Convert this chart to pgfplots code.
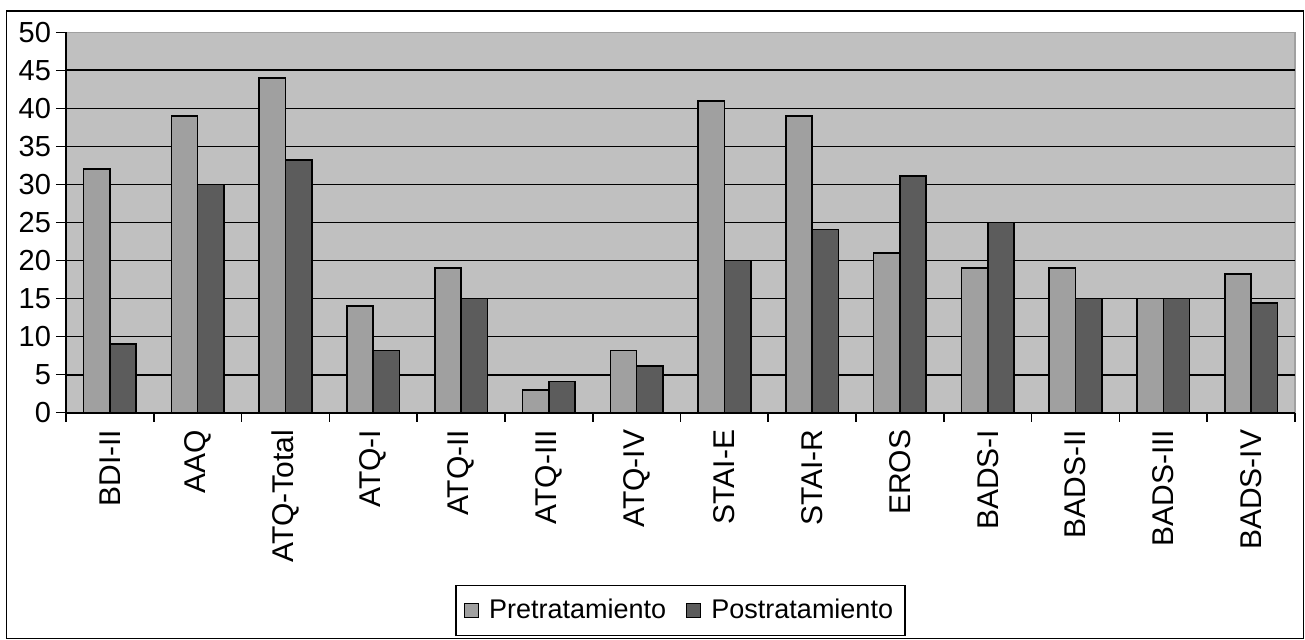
\documentclass[border=0pt]{standalone}
\usepackage{fontspec}
\setmainfont{Liberation Sans}
\usepackage{pgfplots}
\pgfplotsset{compat=1.18}
\definecolor{bgc}{RGB}{192,192,192}
\definecolor{prec}{RGB}{160,160,160}
\definecolor{postc}{RGB}{92,92,92}
\begin{document}
\begin{tikzpicture}
\useasboundingbox (0,0) rectangle (652.5pt,320pt);
\draw[line width=0.6pt] (3.2pt,0.8pt) rectangle (651.6pt,314.5pt);
\begin{axis}[
  at={(33pt,113.65pt)}, anchor=south west,
  scale only axis, width=614.5pt, height=190.2pt,
  ymin=0, ymax=50, xmin=-0.5, xmax=13.5,
  ybar=0pt, bar width=13.15pt,
  axis background/.style={fill=bgc, draw=prec, line width=0.6pt},
  axis x line*=bottom, axis y line*=left,
  x axis line style={-, line width=0.9pt},
  y axis line style={-, line width=0.9pt},
  ytick={0,5,...,45}, extra y ticks={50}, extra y tick style={grid=none},
  ymajorgrids, major grid style={black, line width=0.85pt},
  tick align=outside, major tick length=5pt, minor tick length=4.5pt,
  tick style={black, line width=0.8pt},
  xtick={0,...,13},
  xticklabels={BDI-II,AAQ,ATQ-Total,ATQ-I,ATQ-II,ATQ-III,ATQ-IV,STAI-E,STAI-R,EROS,BADS-I,BADS-II,BADS-III,BADS-IV},
  major x tick style={draw=none},
  minor xtick={-0.5,0.5,...,13.5},
  xticklabel style={rotate=90, anchor=east, font=\fontsize{15}{15}\selectfont},
  yticklabel style={font=\fontsize{14.5}{14.5}\selectfont, xshift=1pt},
  /pgf/number format/assume math mode=true,
  legend style={at={(0.5,-0.4522)}, anchor=north, legend columns=2, draw=black, line width=0.6pt,
    font=\fontsize{13.5}{13.5}\selectfont, inner xsep=4pt, inner ysep=5pt,
    /tikz/every odd column/.append style={column sep=3pt},
    /tikz/every even column/.append style={column sep=8pt}},
  legend image code/.code={\draw[#1, line width=0.6pt] (0pt,-3.5pt) rectangle (7pt,3.5pt);},
]
\addplot[fill=prec, draw=black, line width=0.8pt] coordinates {
(0,32) (1,39) (2,44) (3,14) (4,19) (5,3) (6,8.2) (7,41) (8,39) (9,21) (10,19) (11,19) (12,15) (13,18.2)};
\addplot[fill=postc, draw=black, line width=0.8pt] coordinates {
(0,9) (1,30) (2,33.2) (3,8.2) (4,15) (5,4.1) (6,6.1) (7,20) (8,24.1) (9,31.1) (10,25) (11,15) (12,15) (13,14.4)};
\legend{Pretratamiento,Postratamiento}
\end{axis}
\end{tikzpicture}
\end{document}
